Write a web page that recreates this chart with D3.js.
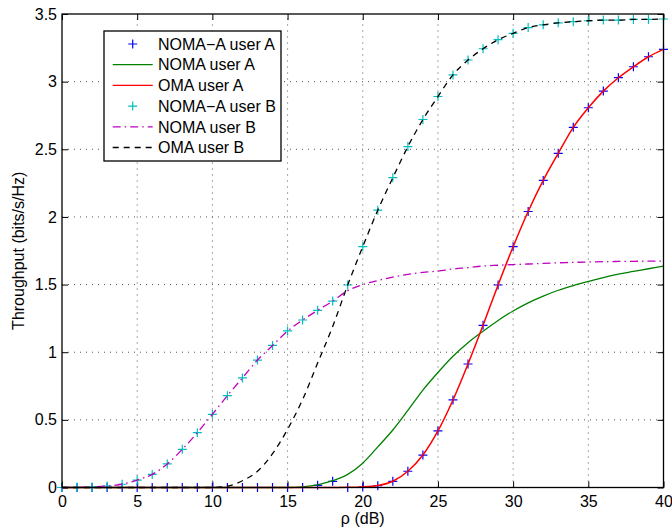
<!DOCTYPE html>
<html><head><meta charset="utf-8">
<script src="https://cdn.jsdelivr.net/npm/d3@7"></script>
<style>body{margin:0;background:#fff}svg{display:block}text{font-family:"Liberation Sans",Arial,sans-serif}</style>
</head><body><div id="chart"></div>
<script>
// rho (dB) sample points
const rho = d3.range(0, 41);
const xTicks = [0,5,10,15,20,25,30,35,40];
const yTicks = [0,0.5,1,1.5,2,2.5,3,3.5];
const yTickLabels = ["0","0.5","1","1.5","2","2.5","3","3.5"];

const nomaA = [0,0,0,0,0,0,0,0,0,0,0,0,0,0,0,0,0.005,0.02,0.05,0.097,0.18,0.30,0.425,0.57,0.72,0.85,0.97,1.07,1.155,1.235,1.305,1.365,1.415,1.458,1.493,1.523,1.552,1.577,1.597,1.617,1.637];
const omaA = [0,0,0,0,0,0,0,0,0,0,0,0,0,0,0,0,0,0,0,0.001,0.004,0.014,0.046,0.12,0.24,0.418,0.647,0.913,1.199,1.497,1.78,2.04,2.27,2.47,2.662,2.807,2.93,3.029,3.11,3.184,3.239];
const nomaAA = [0,0,0,0,0,0,0,0,0,0,0,0,0,0,0,0,0,0.016,0.046,0,0.003,0.013,0.046,0.12,0.24,0.418,0.647,0.913,1.199,1.497,1.78,2.04,2.27,2.47,2.662,2.807,2.93,3.029,3.11,3.184,3.239];
const nomaB = [0,0.001,0.004,0.011,0.024,0.055,0.097,0.174,0.282,0.405,0.541,0.679,0.81,0.942,1.05,1.157,1.238,1.31,1.378,1.455,1.50,1.53,1.555,1.575,1.59,1.60,1.615,1.625,1.637,1.643,1.648,1.652,1.657,1.661,1.664,1.667,1.669,1.671,1.672,1.673,1.674];
const omaB = [0,0,0,0,0,0,0,0,0,0,0,0.01,0.05,0.12,0.25,0.43,0.65,0.92,1.19,1.497,1.78,2.05,2.29,2.52,2.72,2.89,3.05,3.16,3.243,3.31,3.357,3.40,3.42,3.435,3.443,3.45,3.455,3.455,3.46,3.46,3.463];
const nomaAB = [0,0.001,0.004,0.011,0.024,0.055,0.097,0.174,0.282,0.405,0.541,0.679,0.81,0.942,1.05,1.157,1.238,1.31,1.378,1.497,1.78,2.05,2.29,2.52,2.72,2.89,3.05,3.16,3.243,3.31,3.357,3.40,3.42,3.435,3.443,3.45,3.455,3.455,3.46,3.46,3.463];

const seriesNames = ["NOMA\u2212A user A","NOMA user A","OMA user A","NOMA\u2212A user B","NOMA user B","OMA user B"];
const seriesColors = ["#0000ff","#008000","#ff0000","#00bfbf","#bf00bf","#000000"];

const W = 672, H = 529;
const m = {left:62, right:W-663.5, top:14, bottom:H-487.5};
const svg = d3.select("#chart").append("svg").attr("width",W).attr("height",H);
const x = d3.scaleLinear().domain([0,40]).range([m.left, W-m.right]);
const y = d3.scaleLinear().domain([0,3.5]).range([H-m.bottom, m.top]);

// grid
const g = svg.append("g");
g.selectAll(".vg").data(xTicks.slice(1,-1)).join("line")
  .attr("x1",d=>x(d)).attr("x2",d=>x(d)).attr("y1",y(0)).attr("y2",y(3.5))
  .attr("stroke","#555").attr("stroke-width",1).attr("stroke-dasharray","1,5");
g.selectAll(".hg").data(yTicks.slice(1,-1)).join("line")
  .attr("y1",d=>y(d)).attr("y2",d=>y(d)).attr("x1",x(0)).attr("x2",x(40))
  .attr("stroke","#555").attr("stroke-width",1).attr("stroke-dasharray","1,5");

// axes
const fs = 16;
const xAxis = d3.axisBottom(x).tickValues(xTicks).tickSize(-6).tickPadding(8).tickFormat(d3.format("d"));
const yAxis = d3.axisLeft(y).tickValues(yTicks).tickSize(-6).tickPadding(5).tickFormat((d,i)=>yTickLabels[i]);
const xTop = d3.axisTop(x).tickValues(xTicks).tickSize(-6).tickFormat("");
const yRight = d3.axisRight(y).tickValues(yTicks).tickSize(-6).tickFormat("");
function styleAx(sel){ sel.select(".domain").remove(); sel.selectAll("line").attr("stroke","#000");
  sel.selectAll("text").attr("font-size",fs).attr("fill","#000").attr("font-family","Liberation Sans, Arial, sans-serif"); }
svg.append("g").attr("transform",`translate(0,${y(0)})`).call(xAxis).call(styleAx);
svg.append("g").attr("transform",`translate(${x(0)},0)`).call(yAxis).call(styleAx);
svg.append("g").attr("transform",`translate(0,${y(3.5)})`).call(xTop).call(styleAx);
svg.append("g").attr("transform",`translate(${x(40)},0)`).call(yRight).call(styleAx);

const line = d3.line().x((d,i)=>x(rho[i])).y(d=>y(d)).curve(d3.curveMonotoneX);
const plot = svg.append("g");

function plus(sel, data, color){
  sel.selectAll(null).data(data).join("path")
    .attr("d",(d,i)=>`M${x(rho[i])-4.5},${y(d)}h9M${x(rho[i])},${y(d)-4.5}v9`)
    .attr("stroke",color).attr("stroke-width",1.2).attr("fill","none");
}
plus(plot.append("g"), nomaAA, seriesColors[0]);
plot.append("path").datum(nomaA).attr("d",line).attr("fill","none").attr("stroke",seriesColors[1]).attr("stroke-width",1.3);
plot.append("path").datum(omaA).attr("d",line).attr("fill","none").attr("stroke",seriesColors[2]).attr("stroke-width",1.5);
plus(plot.append("g"), nomaAB, seriesColors[3]);
plot.append("path").datum(nomaB).attr("d",line).attr("fill","none").attr("stroke",seriesColors[4]).attr("stroke-width",1.3).attr("stroke-dasharray","8,4,1.5,4");
plot.append("path").datum(omaB).attr("d",line).attr("fill","none").attr("stroke",seriesColors[5]).attr("stroke-width",1.3).attr("stroke-dasharray","6,5");

// frame
svg.append("rect").attr("x",x(0)).attr("y",y(3.5)).attr("width",x(40)-x(0)).attr("height",y(0)-y(3.5))
  .attr("fill","none").attr("stroke","#000").attr("stroke-width",1.3);

// labels
svg.append("text").attr("x",(x(0)+x(40))/2).attr("y",524).attr("text-anchor","middle").attr("font-size",fs).text("\u03C1 (dB)");
svg.append("text").attr("transform",`translate(24,${(y(0)+y(3.5))/2}) rotate(-90)`).attr("text-anchor","middle").attr("font-size",fs).text("Throughput (bits/s/Hz)");

// legend
const lg = svg.append("g");
lg.append("rect").attr("x",104).attr("y",31).attr("width",177).attr("height",130).attr("fill","#fff").attr("stroke","#000").attr("stroke-width",1.3);
const dashes = [null,null,null,null,"8,4,1.5,4","6,5"];
seriesNames.forEach((n,i)=>{
  const yy = 44 + i*20.7;
  if(i===0||i===3){
    lg.append("path").attr("d",`M${132.7-4.5},${yy}h9M${132.7},${yy-4.5}v9`).attr("stroke",seriesColors[i]).attr("stroke-width",1.2);
  } else {
    lg.append("line").attr("x1",112.7).attr("x2",152.7).attr("y1",yy).attr("y2",yy)
      .attr("stroke",seriesColors[i]).attr("stroke-width",1.3).attr("stroke-dasharray",dashes[i]);
  }
  lg.append("text").attr("x",158).attr("y",yy).attr("dy","0.36em").attr("font-size",fs).text(n);
});
</script></body></html>
